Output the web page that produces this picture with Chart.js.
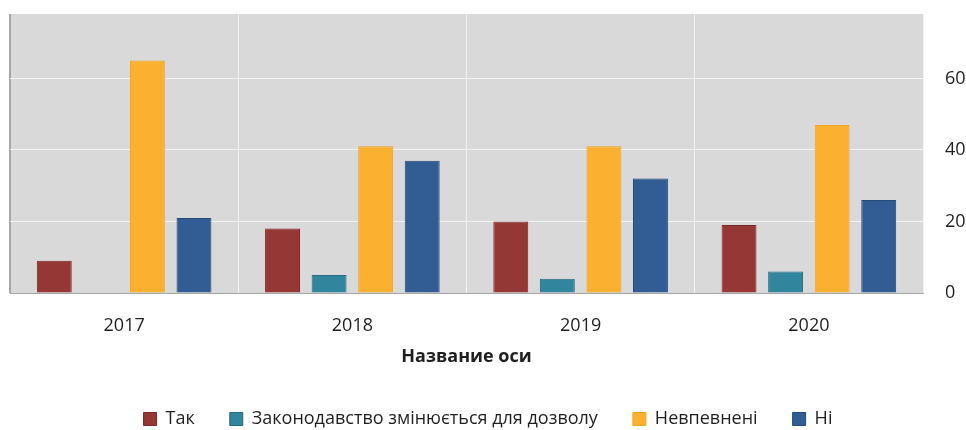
<!DOCTYPE html>
<html>
<head>
<meta charset="utf-8">
<script src="https://cdn.jsdelivr.net/npm/chart.js@4/dist/chart.umd.min.js"></script>
<style>
  html, body { margin: 0; padding: 0; background: #fff; }
  #wrap { width: 966px; height: 430px; }
</style>
</head>
<body>
<div id="wrap"><canvas id="chart" width="966" height="430"></canvas></div>
<script>
// data
var years = ['2017', '2018', '2019', '2020'];
var tak = [9, 18, 20, 19];
var zakon = [0, 5, 4, 6];
var nevpevneni = [65, 41, 41, 47];
var ni = [21, 37, 32, 26];
var yTicks = [0, 20, 40, 60];

var FONT = '"Open Sans", "DejaVu Sans", sans-serif';

// grey plot background
var plotBg = {
    id: 'plotBg',
    beforeDraw: function (chart) {
        var a = chart.chartArea, c = chart.ctx;
        c.save();
        c.fillStyle = '#d9d9d9';
        c.fillRect(a.left, a.top, a.right - a.left, a.bottom - a.top);
        c.restore();
    }
};

// keep the legend low, wide spacing between items
var legendSize = {
    id: 'legendSize',
    beforeInit: function (chart) {
        var fit = chart.legend.fit;
        chart.legend.fit = function () {
            fit.call(this);
            this.height = 55;
        };
    }
};

var ctx = document.getElementById('chart').getContext('2d');
var chart = new Chart(ctx, {
    type: 'bar',
    data: {
        labels: years,
        datasets: [
            { label: 'Так', data: tak, backgroundColor: '#953735', borderColor: '#7b2725', borderWidth: 1 },
            { label: 'Законодавство змінюється для дозволу', data: zakon, backgroundColor: '#31859c', borderColor: '#256c80', borderWidth: 1 },
            { label: 'Невпевнені', data: nevpevneni, backgroundColor: '#fbb12f', borderColor: '#f0a523', borderWidth: 1 },
            { label: 'Ні', data: ni, backgroundColor: '#325d94', borderColor: '#234a7a', borderWidth: 1 }
        ]
    },
    options: {
        responsive: false,
        animation: false,
        layout: { padding: { left: 10, top: 14, right: 0, bottom: 0 } },
        datasets: {
            bar: { categoryPercentage: 0.816, barPercentage: 0.75 }
        },
        plugins: {
            legend: {
                position: 'bottom',
                labels: {
                    boxWidth: 13,
                    boxHeight: 13,
                    padding: 35,
                    color: '#1f1f1f',
                    font: { family: FONT, size: 18 }
                }
            },
            tooltip: { enabled: false }
        },
        scales: {
            x: {
                grid: {
                    offset: true,
                    drawTicks: false,
                    color: function (c) { return c.index === 0 ? '#a6a6a6' : '#f2f2f2'; },
                    lineWidth: function (c) { return c.index === 0 ? 2 : 1; }
                },
                border: { display: true, color: '#a6a6a6', width: 1 },
                ticks: {
                    padding: 22,
                    color: '#1f1f1f',
                    font: { family: FONT, size: 18 }
                },
                title: {
                    display: true,
                    text: 'Название оси',
                    color: '#1f1f1f',
                    padding: { top: 0, bottom: 7 },
                    font: { family: FONT, size: 18, weight: 'bold' }
                },
                afterFit: function (scale) { scale.height = 82; }
            },
            y: {
                position: 'right',
                min: 0,
                max: 78,
                afterBuildTicks: function (scale) {
                    scale.ticks = yTicks.map(function (v) { return { value: v }; });
                },
                grid: { drawTicks: false, color: '#f2f2f2' },
                border: { display: false },
                ticks: {
                    padding: 22,
                    color: '#1f1f1f',
                    font: { family: FONT, size: 18 }
                },
                afterFit: function (scale) {
                    scale.width = 43;
                    scale.paddingTop = 0;
                    scale.paddingBottom = 0;
                }
            }
        }
    },
    plugins: [plotBg, legendSize]
});
</script>
</body>
</html>
